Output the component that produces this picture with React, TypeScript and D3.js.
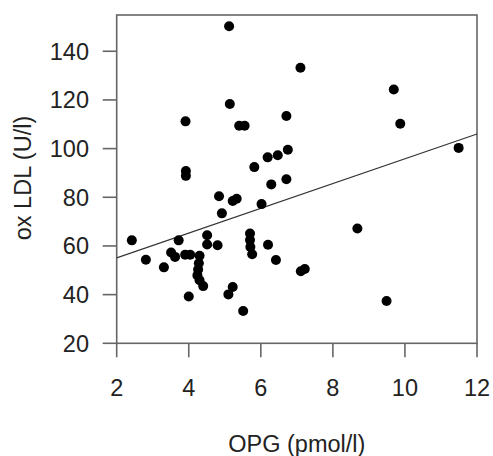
import React from "react";
import * as d3 from "d3";

const opg: number[] = [
  5.12, 7.1, 5.14, 3.91, 5.4, 5.55, 6.71, 6.75, 6.47, 6.19,
  5.82, 3.92, 3.92, 6.29, 6.71, 9.69, 9.87, 11.49, 8.68, 7.11,
  7.22, 9.49, 2.42, 2.81, 3.31, 3.51, 3.62, 3.72, 3.9, 4.04,
  4.0, 4.3, 4.28, 4.26, 4.24, 4.3, 4.4, 4.51, 4.51, 4.8,
  4.84, 4.92, 5.22, 5.33, 5.1, 5.22, 5.51, 6.02, 5.7, 5.7,
  5.71, 5.76, 6.2, 6.42,
];
const oxLdl: number[] = [
  150.3, 133.2, 118.3, 111.2, 109.4, 109.4, 113.4, 99.5, 97.3, 96.4,
  92.4, 90.8, 88.8, 85.3, 87.4, 124.3, 110.2, 100.3, 67.2, 49.6,
  50.5, 37.4, 62.3, 54.3, 51.2, 57.3, 55.5, 62.3, 56.4, 56.4,
  39.2, 56.0, 52.9, 50.3, 47.9, 45.9, 43.5, 64.4, 60.6, 60.3,
  80.4, 73.4, 78.5, 79.4, 40.1, 43.1, 33.3, 77.2, 65.1, 62.4,
  59.6, 56.6, 60.5, 54.2,
];
const fitX: number[] = [2, 12];
const fitY: number[] = [55.1, 106.0];
const xTicks: number[] = [2, 4, 6, 8, 10, 12];
const yTicks: number[] = [20, 40, 60, 80, 100, 120, 140];
const xTitle = "OPG (pmol/l)";
const yTitle = "ox LDL (U/l)";

export default function App() {
  const W = 493;
  const H = 456;
  const left = 116.7;
  const right = 477;
  const top = 15;
  const bottom = 343.3;
  const x = d3.scaleLinear().domain([2, 12]).range([left, right]);
  const y = d3.scaleLinear().domain([20, 154.9]).range([bottom, top]);
  const font = "'Liberation Sans', Arial, sans-serif";
  const axisColor = "#666";
  const textColor = "#222";
  const tickLen = 14;
  const fs = 23.5;
  const line = d3
    .line<number>()
    .x((_, i) => x(fitX[i]))
    .y((d) => y(d));

  return (
    <svg
      width={W}
      height={H}
      style={{ position: "absolute", left: 0, top: 0, background: "#fff" }}
      fontFamily={font}
    >
      <rect x={0} y={0} width={W} height={H} fill="#fff" />
      {/* box */}
      <rect
        x={left}
        y={top}
        width={right - left}
        height={bottom - top}
        fill="none"
        stroke={axisColor}
        strokeWidth={1.6}
      />
      {/* x axis ticks */}
      {xTicks.map((t) => (
        <g key={"x" + t}>
          <line
            x1={x(t)}
            x2={x(t)}
            y1={bottom}
            y2={bottom + tickLen}
            stroke={axisColor}
            strokeWidth={1.6}
          />
          <text
            x={x(t)}
            y={396}
            textAnchor="middle"
            fontSize={fs}
            fill={textColor}
          >
            {t}
          </text>
        </g>
      ))}
      {/* y axis ticks */}
      {yTicks.map((t) => (
        <g key={"y" + t}>
          <line
            x1={left - tickLen}
            x2={left}
            y1={y(t)}
            y2={y(t)}
            stroke={axisColor}
            strokeWidth={1.6}
          />
          <text
            x={89}
            y={y(t) + 8.4}
            textAnchor="end"
            fontSize={fs}
            fill={textColor}
          >
            {t}
          </text>
        </g>
      ))}
      {/* regression line */}
      <path d={line(fitY) || ""} fill="none" stroke="#333" strokeWidth={1.1} />
      {/* points */}
      {opg.map((v, i) => (
        <circle key={i} cx={x(v)} cy={y(oxLdl[i])} r={5} fill="#000" />
      ))}
      {/* titles */}
      <text
        x={(left + right) / 2}
        y={452}
        textAnchor="middle"
        fontSize={fs}
        fill={textColor}
      >
        {xTitle}
      </text>
      <text
        transform={`translate(31, 178) rotate(-90)`}
        textAnchor="middle"
        fontSize={fs}
        fill={textColor}
      >
        {yTitle}
      </text>
    </svg>
  );
}
